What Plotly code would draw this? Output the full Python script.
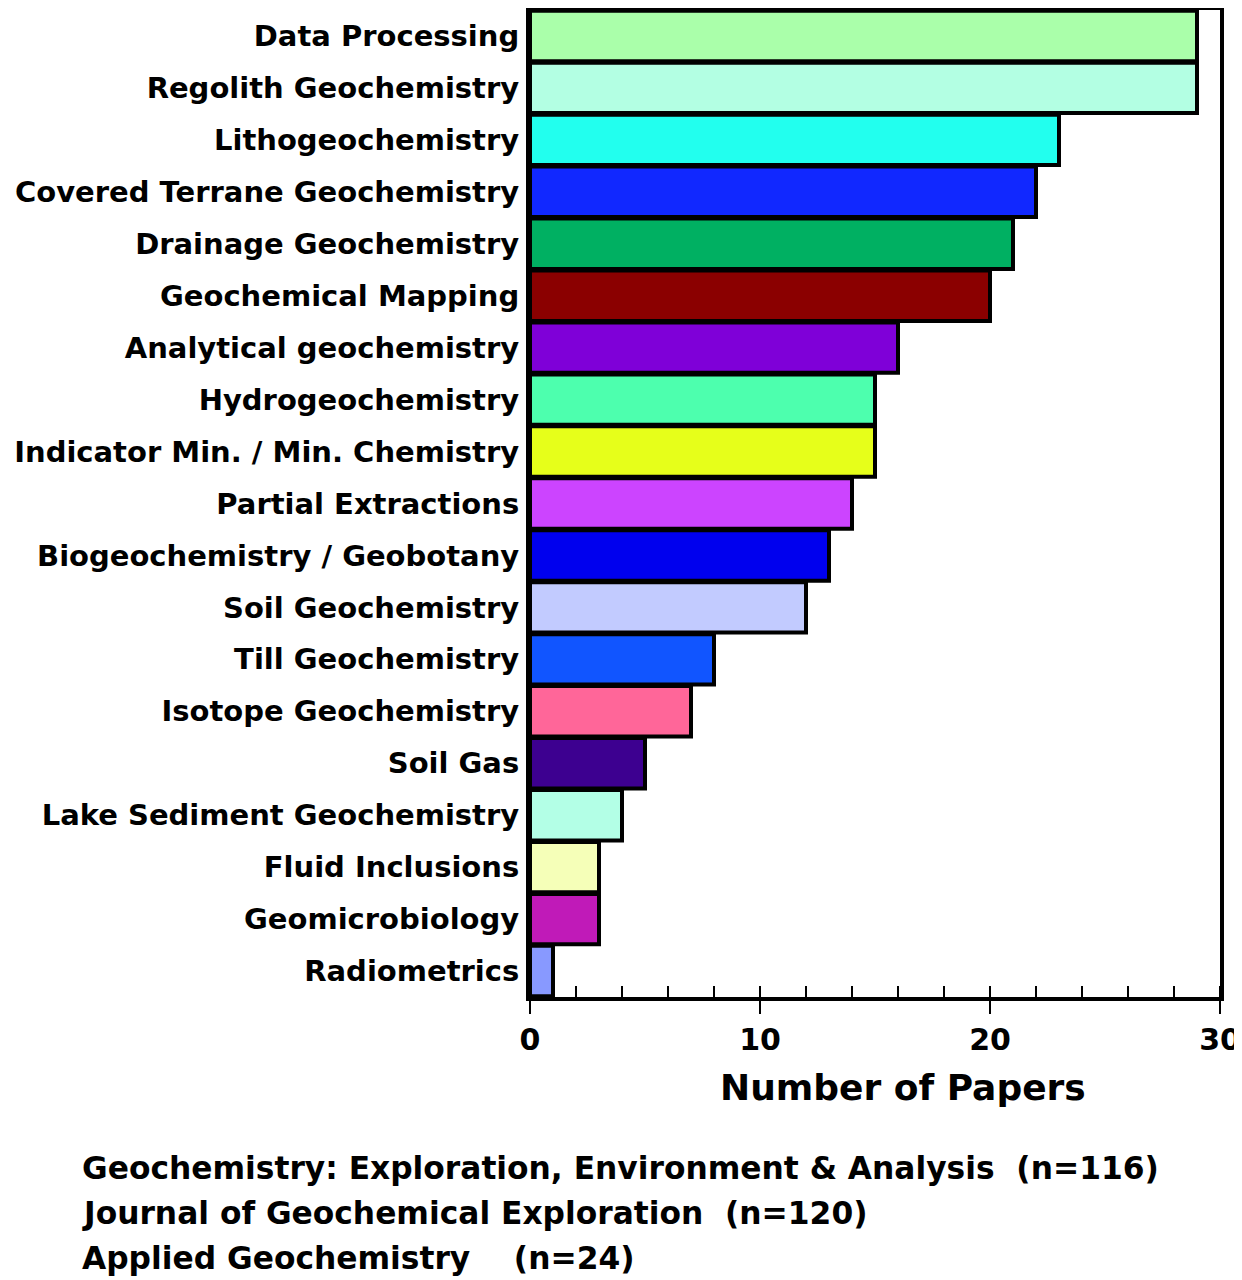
import plotly.graph_objects as go

# topics, top to bottom as in the figure
topics = [
    "Data Processing",
    "Regolith Geochemistry",
    "Lithogeochemistry",
    "Covered Terrane Geochemistry",
    "Drainage Geochemistry",
    "Geochemical Mapping",
    "Analytical geochemistry",
    "Hydrogeochemistry",
    "Indicator Min. / Min. Chemistry",
    "Partial Extractions",
    "Biogeochemistry / Geobotany",
    "Soil Geochemistry",
    "Till Geochemistry",
    "Isotope Geochemistry",
    "Soil Gas",
    "Lake Sediment Geochemistry",
    "Fluid Inclusions",
    "Geomicrobiology",
    "Radiometrics",
]
papers = [29, 29, 23, 22, 21, 20, 16, 15, 15, 14, 13, 12, 8, 7, 5, 4, 3, 3, 1]

journals = [
    "Geochemistry: Exploration, Environment & Analysis\u00a0\u00a0(n=116)",
    "Journal of Geochemical Exploration\u00a0\u00a0(n=120)",
    "Applied Geochemistry\u00a0\u00a0\u00a0\u00a0(n=24)",
]

bar_colors = [
    "#aaffaa", "#b3ffe3", "#22ffee", "#1128ff", "#00b062",
    "#8b0000", "#7f00d8", "#4dffae", "#e6ff1a", "#cc44ff",
    "#0000ee", "#c2cbff", "#1155ff", "#ff6699", "#3d0090",
    "#b3ffe6", "#f5ffb8", "#c01ab8", "#8899ff",
]

FONT = "DejaVu Sans"

# the page body adds an 8px margin, so the figure is 8px smaller
W, H = 1234, 1272
PLOT_L, PLOT_R, PLOT_T, PLOT_B = 522, 1212, 2, 989

fig = go.Figure(
    go.Bar(
        x=papers,
        y=topics,
        orientation="h",
        marker=dict(color=bar_colors, line=dict(color="black", width=4)),
        showlegend=False,
    )
)

fig.update_xaxes(
    range=[0, 30],
    dtick=10,
    ticks="outside",
    ticklen=13,
    tickwidth=1.5,
    tickcolor="black",
    minor=dict(ticks="inside", dtick=2, ticklen=11, tickwidth=1.5, tickcolor="black"),
    showline=True,
    linewidth=4,
    linecolor="black",
    mirror=True,
    showgrid=False,
    zeroline=False,
    automargin=False,
    tickfont=dict(family=FONT, size=30, color="black", weight="bold"),
)
fig.update_yaxes(
    range=[len(topics) - 0.5, -0.5],
    showline=True,
    linewidth=4,
    linecolor="black",
    mirror=True,
    showgrid=False,
    ticks="",
    ticklabelstandoff=1,
    automargin=False,
    tickfont=dict(family=FONT, size=29, color="black", weight="bold"),
)

plot_w = PLOT_R - PLOT_L
plot_h = PLOT_B - PLOT_T

annotations = [
    dict(
        text="Number of Papers",
        xref="x", x=16.2,
        yref="paper", y=0, yanchor="top", yshift=-68,
        showarrow=False,
        font=dict(family=FONT, size=36, color="black", weight="bold"),
    )
]
for i, name in enumerate(journals):
    annotations.append(
        dict(
            text=name,
            xref="paper", x=(72 - PLOT_L) / plot_w, xanchor="left",
            yref="paper", y=(PLOT_B - (1160 + 45 * i)) / plot_h, yanchor="middle",
            showarrow=False,
            font=dict(family=FONT, size=31.3, color="black", weight="bold"),
        )
    )

fig.update_layout(
    width=W,
    height=H,
    margin=dict(l=PLOT_L, r=W - PLOT_R, t=PLOT_T, b=H - PLOT_B),
    bargap=0.03,
    plot_bgcolor="white",
    paper_bgcolor="white",
    annotations=annotations,
)

fig.write_html("out.html")
